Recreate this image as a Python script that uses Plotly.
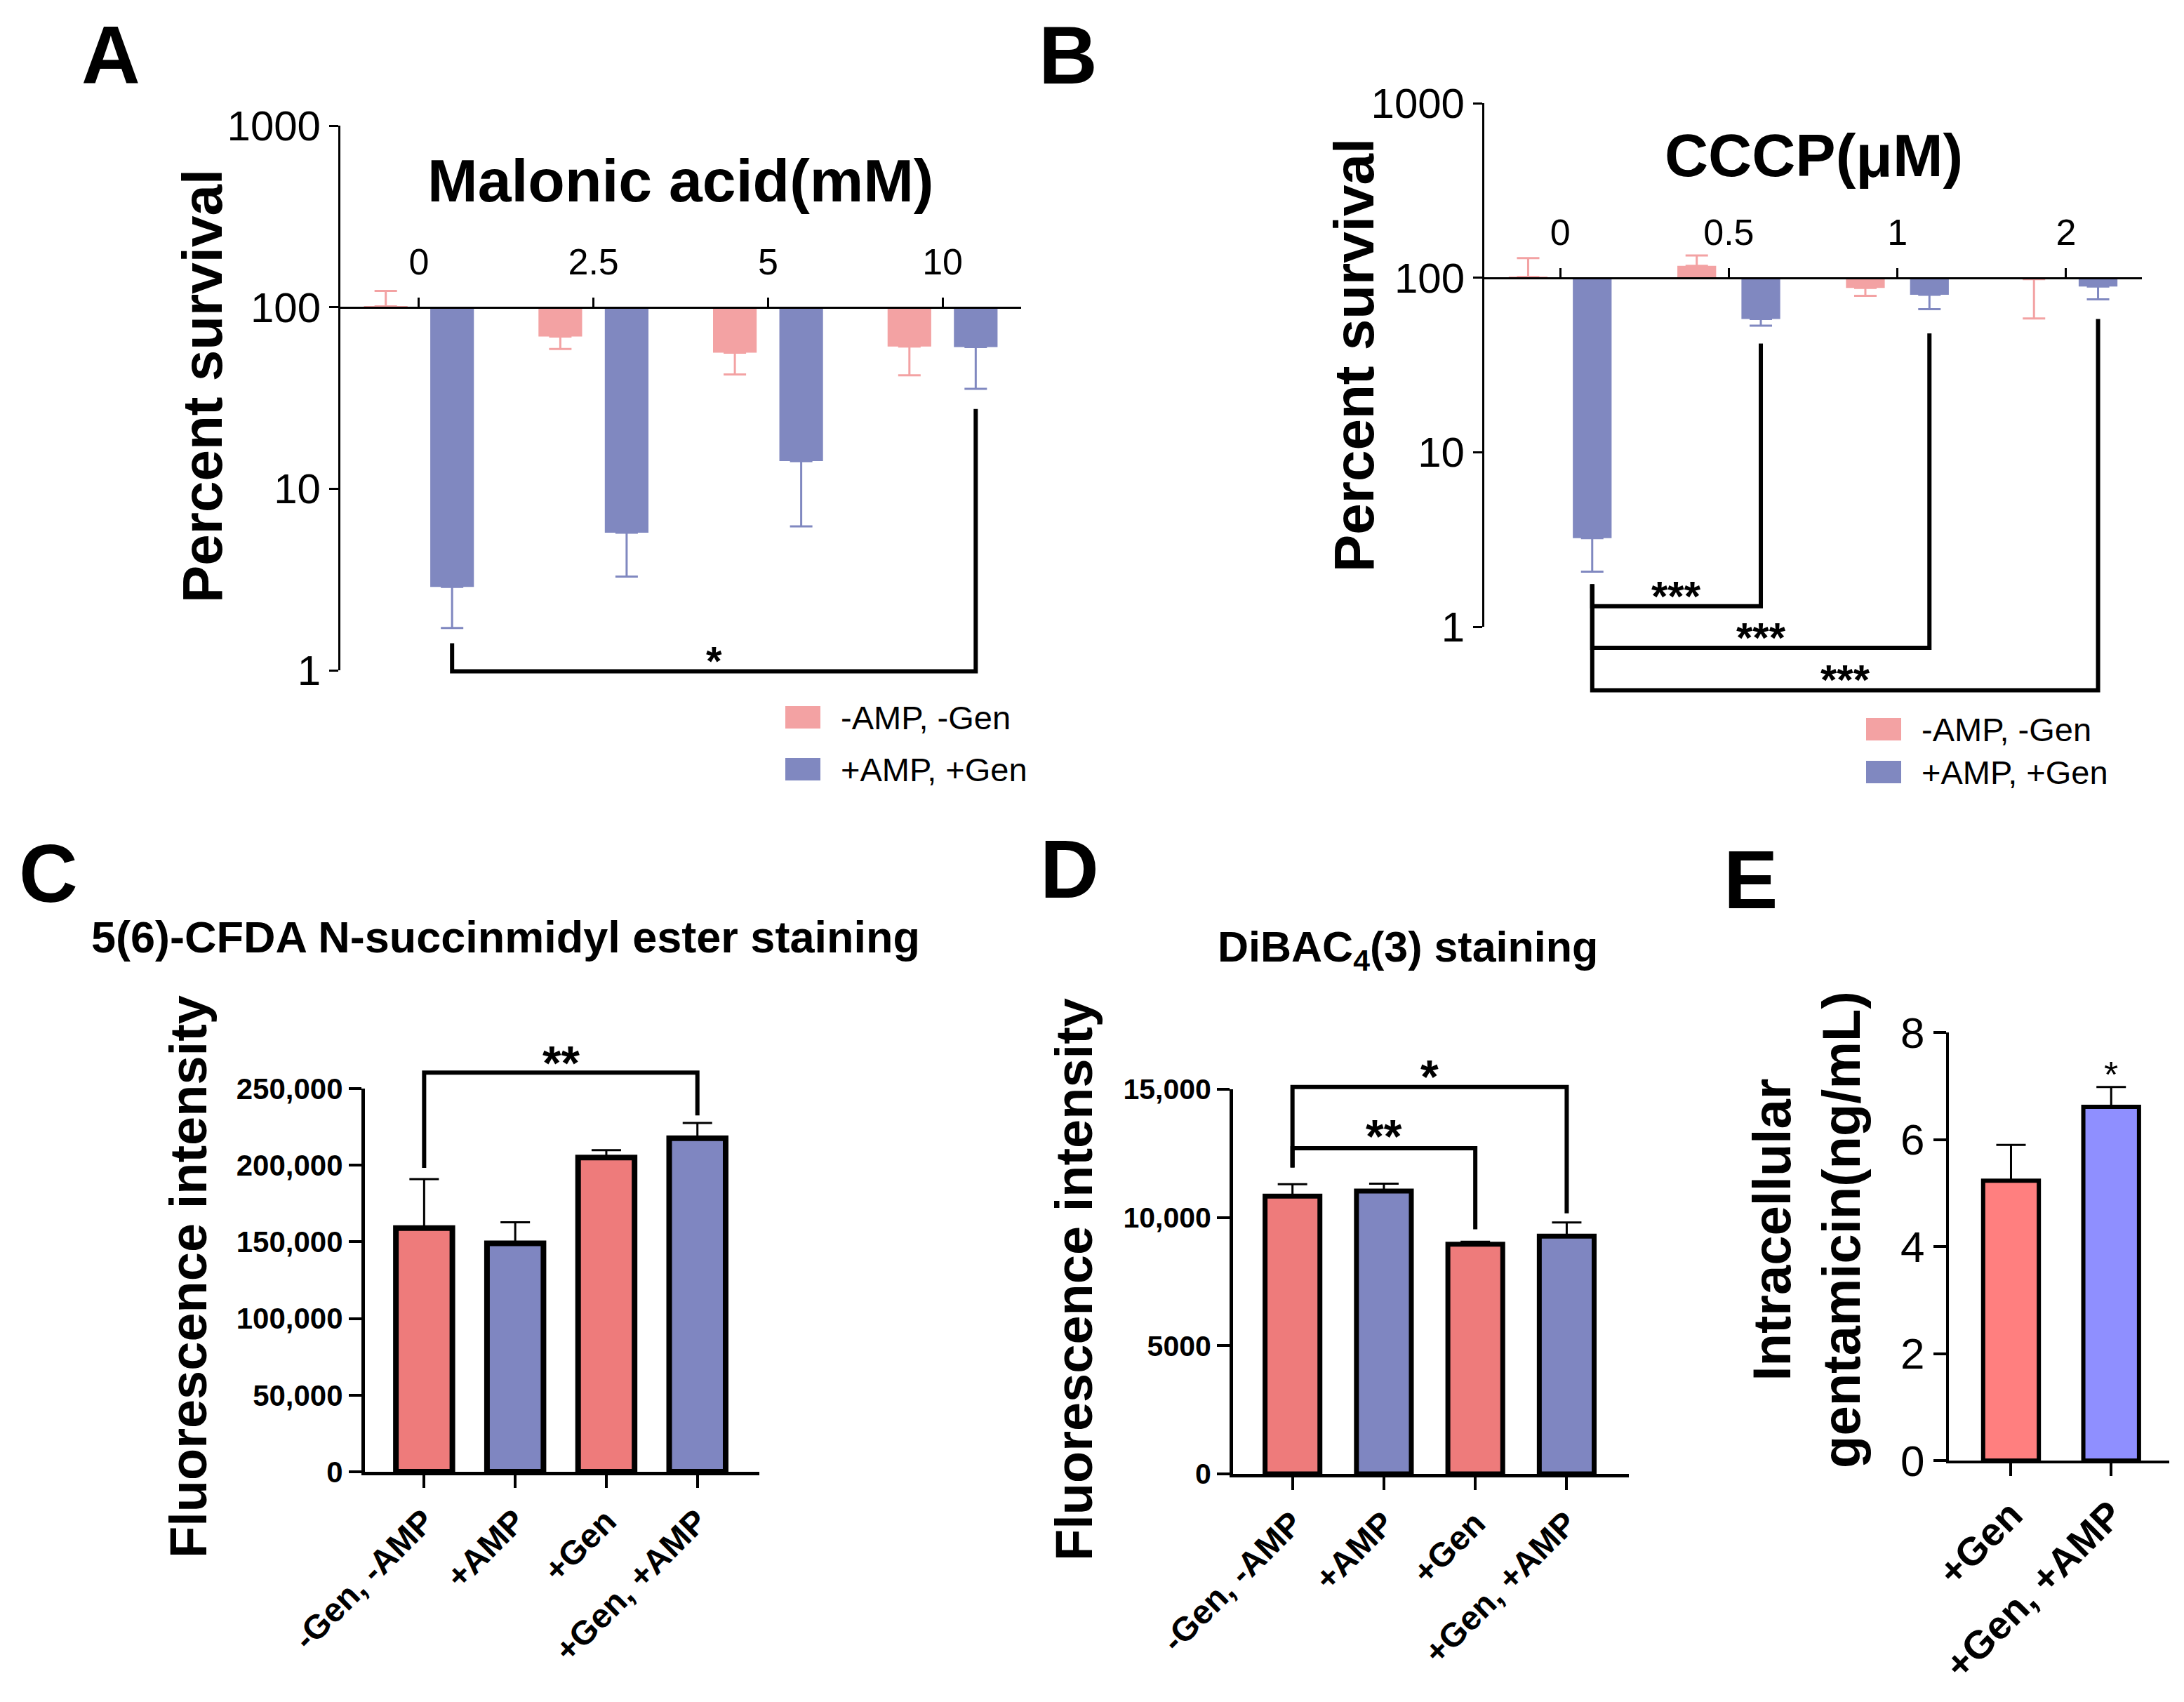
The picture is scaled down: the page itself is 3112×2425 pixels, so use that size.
import math
import plotly.graph_objects as go

W, H = 3112, 2425
OFF = 8  # page margin in the screenshot
FONT = "Liberation Sans, Arial, Helvetica, sans-serif"

# =========================
# DATA
# =========================
# A - malonic acid (mM), percent survival
malonic_doses = ["0", "2.5", "5", "10"]
malonic_ctrl = [101, 68.9, 56.1, 60.7]
malonic_ctrl_up = [22, 0, 0, 0]
malonic_ctrl_down = [0, 10.1, 13.5, 18.6]
malonic_treat = [2.88, 5.73, 14.2, 60.3]
malonic_treat_down = [1.17, 2.45, 8.0, 24.8]

# B - CCCP (uM), percent survival
cccp_doses = ["0", "0.5", "1", "2"]
cccp_ctrl = [101, 117, 87.3, 98]
cccp_ctrl_up = [28.5, 17, 0, 0]
cccp_ctrl_down = [0, 0, 8.5, 39.6]
cccp_treat = [3.22, 58.0, 79.9, 89.1]
cccp_treat_down = [1.15, 4.9, 13.9, 14.0]

# C / D - staining
stain_groups = ["-Gen, -AMP", "+AMP", "+Gen", "+Gen, +AMP"]
cfda_mean = [159000, 149000, 205000, 217600]
cfda_err = [31900, 13800, 4800, 10000]
dibac_mean = [10830, 11030, 8960, 9270]
dibac_err = [470, 290, 90, 535]

# E - intracellular gentamicin
gen_groups = ["+Gen", "+Gen, +AMP"]
gen_mean = [5.23, 6.61]
gen_err = [0.67, 0.37]

PINK_LIGHT = "#F3A2A3"
BLUE_LIGHT = "#8088C0"
PINK = "#EE7B7B"
BLUE = "#7F86C1"
PINK_E = "#FF7F7F"
BLUE_E = "#8F8FFF"

# panel geometry in figure pixels (axis extents)
PANELS = {
    "A": dict(xpx=(485, 1455), ypx=(955, 179), xrange=(-0.45, 3.45), yrange=(0, 3), log=True),
    "B": dict(xpx=(2115, 3052), ypx=(893, 147), xrange=(-0.45, 3.45), yrange=(0, 3), log=True),
    "C": dict(xpx=(520, 1082), ypx=(2097, 1551), xrange=(-0.65, 3.68), yrange=(0, 250000), log=False),
    "D": dict(xpx=(1757, 2321), ypx=(2100, 1552), xrange=(-0.65, 3.68), yrange=(0, 15000), log=False),
    "E": dict(xpx=(2777, 3091), ypx=(2081, 1471), xrange=(-0.62, 1.58), yrange=(0, 8), log=False),
}


def fx(px):
    return (px - OFF) / W


def fy(py):
    return 1 - (py - OFF) / H


def data_px(p, xv, yv):
    x0, x1 = p["xpx"]
    xr = p["xrange"]
    px = x0 + (xv - xr[0]) / (xr[1] - xr[0]) * (x1 - x0)
    yb, yt = p["ypx"]
    yr = p["yrange"]
    v = math.log10(yv) if p["log"] else yv
    py = yb - (v - yr[0]) / (yr[1] - yr[0]) * (yb - yt)
    return px, py


fig = go.Figure()


def text(x, y, s, size, bold=True, angle=0, xanchor="center", yanchor="middle", yshift=0):
    fig.add_annotation(
        x=fx(x), y=fy(y), xref="paper", yref="paper", text=s, showarrow=False,
        textangle=angle, xanchor=xanchor, yanchor=yanchor, yshift=yshift,
        font=dict(family=FONT, size=size, color="black", weight="bold" if bold else "normal"),
    )


def bracket(p, xa, xb, y_left, y_right, y_bar, width=6):
    pts = [data_px(p, xa, y_left), data_px(p, xa, y_bar), data_px(p, xb, y_bar), data_px(p, xb, y_right)]
    path = "M " + " L ".join(f"{fx(a):.5f},{fy(b):.5f}" for a, b in pts)
    fig.add_shape(type="path", path=path, xref="paper", yref="paper",
                  line=dict(color="black", width=width))


def stars(p, xv, y_ref, s, size, gap=32, bold=True):
    px, py = data_px(p, xv, y_ref)
    text(px, py - gap, s, size, bold=bold, yshift=-0.27 * size)


# =========================
# A / B - survival, bars hang from 100
# =========================
def survival(axis, cats, ctrl, up, down, treat, tdown, width, shift):
    idx = list(range(len(cats)))
    fig.add_trace(go.Bar(
        x=idx, y=[v - 100 for v in ctrl], base=100, width=width, offset=-shift - width / 2,
        marker=dict(color=PINK_LIGHT, line_width=0), name="-AMP, -Gen",
        error_y=dict(type="data", symmetric=False, array=up, arrayminus=down,
                     color=PINK_LIGHT, thickness=3, width=16),
        xaxis="x" + axis, yaxis="y" + axis, showlegend=False,
    ))
    fig.add_trace(go.Bar(
        x=idx, y=[v - 100 for v in treat], base=100, width=width, offset=shift - width / 2,
        marker=dict(color=BLUE_LIGHT, line_width=0), name="+AMP, +Gen",
        error_y=dict(type="data", symmetric=False, array=[0] * len(cats), arrayminus=tdown,
                     color=BLUE_LIGHT, thickness=3, width=16),
        xaxis="x" + axis, yaxis="y" + axis, showlegend=False,
    ))


survival("", malonic_doses, malonic_ctrl, malonic_ctrl_up, malonic_ctrl_down,
         malonic_treat, malonic_treat_down, 0.25, 0.19)
survival("2", cccp_doses, cccp_ctrl, cccp_ctrl_up, cccp_ctrl_down,
         cccp_treat, cccp_treat_down, 0.23, 0.19)


# =========================
# C / D / E - plain bars with black outline
# =========================
def outlined(axis, cats, mean, err, colors, width, line_w):
    fig.add_trace(go.Bar(
        x=list(range(len(cats))), y=mean, width=width,
        marker=dict(color=colors, line=dict(color="black", width=line_w)),
        error_y=dict(type="data", symmetric=False, array=err, arrayminus=[0] * len(cats),
                     color="black", thickness=3, width=21),
        xaxis="x" + axis, yaxis="y" + axis, showlegend=False,
    ))


outlined("3", stain_groups, cfda_mean, cfda_err, [PINK, BLUE, PINK, BLUE], 0.62, 8)
outlined("4", stain_groups, dibac_mean, dibac_err, [PINK, BLUE, PINK, BLUE], 0.6, 7)
outlined("5", gen_groups, gen_mean, gen_err, [PINK_E, BLUE_E], 0.556, 6)


# =========================
# AXES
# =========================
def axis_common(lw, tl, tw):
    return dict(showgrid=False, zeroline=False, showline=True, linecolor="black", linewidth=lw,
                ticks="outside", ticklen=tl, tickwidth=tw, tickcolor="black",
                fixedrange=True, automargin=False)


def tfont(size, bold):
    return dict(family=FONT, size=size, color="black", weight="bold" if bold else "normal")


layout_axes = {}
for key, ax in [("A", ""), ("B", "2")]:
    p = PANELS[key]
    cats = malonic_doses if key == "A" else cccp_doses
    _, base_py = data_px(p, 0, 100)
    layout_axes["xaxis" + ax] = dict(
        axis_common(3, 13, 3), domain=[fx(p["xpx"][0]), fx(p["xpx"][1])], range=list(p["xrange"]),
        anchor="free", position=fy(base_py), side="top", tickvals=list(range(len(cats))),
        ticktext=cats, tickfont=tfont(52, False), ticklabelstandoff=12,
    )
    layout_axes["yaxis" + ax] = dict(
        axis_common(3, 13, 3), domain=[fy(p["ypx"][0]), fy(p["ypx"][1])], range=list(p["yrange"]),
        type="log", anchor="x" + ax, tickvals=[1, 10, 100, 1000], ticktext=["1", "10", "100", "1000"],
        tickfont=tfont(60, False),
    )

bottom = [("C", "3", stain_groups, 5, 48, [0, 50000, 100000, 150000, 200000, 250000],
           ["0", "50,000", "100,000", "150,000", "200,000", "250,000"], 42, True),
          ("D", "4", stain_groups, 5, 48, [0, 5000, 10000, 15000],
           ["0", "5000", "10,000", "15,000"], 41, True),
          ("E", "5", gen_groups, 4, 56, [0, 2, 4, 6, 8], ["0", "2", "4", "6", "8"], 62, False)]
for key, ax, cats, lw, xfs, yt, ytt, yfs, ybold in bottom:
    p = PANELS[key]
    layout_axes["xaxis" + ax] = dict(
        axis_common(lw, 18, 4), domain=[fx(p["xpx"][0]), fx(p["xpx"][1])], range=list(p["xrange"]),
        anchor="y" + ax, tickvals=list(range(len(cats))), ticktext=cats, tickangle=-45,
        tickfont=tfont(xfs, True),
    )
    layout_axes["yaxis" + ax] = dict(
        axis_common(lw, 18, 4), domain=[fy(p["ypx"][0]), fy(p["ypx"][1])], range=list(p["yrange"]),
        anchor="x" + ax, tickvals=yt, ticktext=ytt, tickfont=tfont(yfs, ybold),
    )

fig.update_layout(
    width=W, height=H, margin=dict(l=0, r=0, t=0, b=0, autoexpand=False),
    paper_bgcolor="white", plot_bgcolor="white", barmode="overlay",
    font=dict(family=FONT, color="black"), showlegend=False, **layout_axes,
)

# =========================
# SIGNIFICANCE BRACKETS
# =========================
A, B, C, D, E = (PANELS[k] for k in "ABCDE")
bracket(A, 0.19, 3.19, 1.41, 27.5, 0.986)
stars(A, 1.69, 0.986, "*", 58, gap=31)

bracket(B, 0.19, 1.19, 1.75, 41.9, 1.31)
bracket(B, 0.19, 2.19, 1.75, 48.0, 0.757)
bracket(B, 0.19, 3.19, 1.75, 58.0, 0.433)
stars(B, 0.69, 1.31, "***", 60, gap=31)
stars(B, 1.19, 0.757, "***", 60, gap=31)
stars(B, 1.69, 0.433, "***", 60, gap=31)

bracket(C, 0, 3, 198300, 232500, 260400)
stars(C, 1.5, 260400, "**", 68, gap=33)

bracket(D, 0, 3, 11946, 10163, 15089)
bracket(D, 0, 2, 11946, 9539, 12704)
stars(D, 1.5, 15089, "*", 66, gap=33)
stars(D, 1.0, 12704, "**", 66, gap=35)

stars(E, 1, gen_mean[1] + gen_err[1], "*", 52, gap=32, bold=False)

# =========================
# TEXT: panel letters, titles, axis titles, legends
# =========================
for letter, (x, y) in {"A": (158, 79), "B": (1522, 79), "C": (69, 1245),
                       "D": (1524, 1239), "E": (2494, 1254)}.items():
    text(x, y, letter, 116)

text(970, 257, "Malonic acid(mM)", 86)
text(2584, 221, "CCCP(μM)", 86)
text(720, 1335, "5(6)-CFDA N-succinmidyl ester staining", 63)
text(2006, 1353, "DiBAC<sub>4</sub>(3) staining", 61)

text(288, 550, "Percent survival", 80, angle=-90)
text(1930, 506, "Percent survival", 80, angle=-90)
text(268, 1819, "Fluorescence intensity", 74, angle=-90)
text(1530, 1823, "Fluorescence intensity", 74, angle=-90)
text(2574, 1752, "Intracellular<br>gentamicin(ng/mL)", 76, angle=-90)

legend_spots = [(1119, 1022, 1096), (2659, 1039, 1100)]
for lx, y1, y2 in legend_spots:
    for yc, col, lab in [(y1, PINK_LIGHT, "-AMP, -Gen"), (y2, BLUE_LIGHT, "+AMP, +Gen")]:
        fig.add_shape(type="rect", xref="paper", yref="paper", x0=fx(lx), x1=fx(lx + 50),
                      y0=fy(yc + 16), y1=fy(yc - 16), fillcolor=col, line_width=0)
        text(lx + 77, yc, lab, 47, bold=False, xanchor="left")

fig.write_html("out.html")
